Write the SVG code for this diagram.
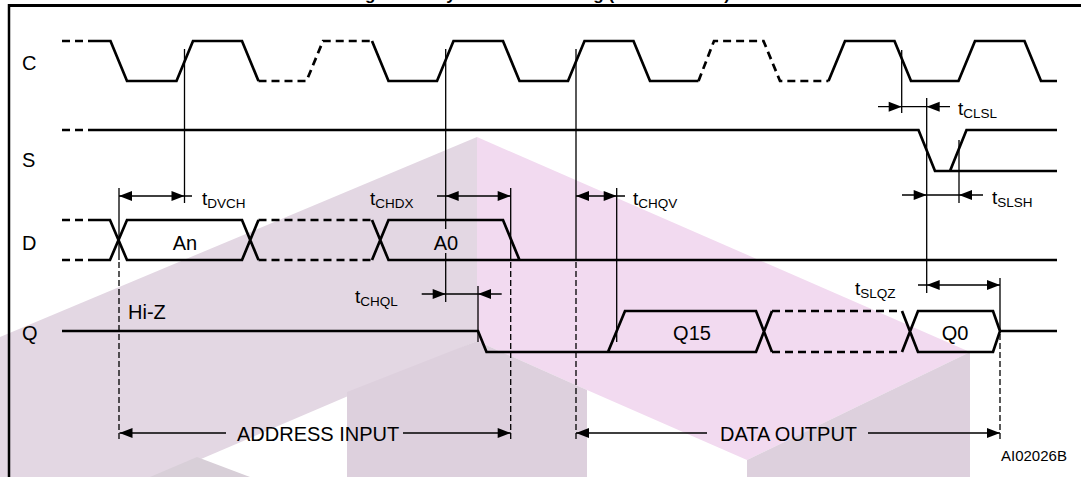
<svg xmlns="http://www.w3.org/2000/svg" width="1081" height="477" viewBox="0 0 1081 477">
<style>
.wv{fill:none;stroke:#000;stroke-width:2.7;stroke-linejoin:miter}
.dw{fill:none;stroke:#000;stroke-width:2.7;stroke-dasharray:8 5}
.tn{fill:none;stroke:#000;stroke-width:1.3}
.td{fill:none;stroke:#000;stroke-width:1.3;stroke-dasharray:6 3}
.lb{font-family:"Liberation Sans",Arial,sans-serif;font-size:20px;fill:#000}
.tm{font-family:"Liberation Sans",Arial,sans-serif;font-size:19px;fill:#000}
.sb{font-size:13.5px}
.ttl{font-family:"Liberation Sans",Arial,sans-serif;font-size:17px;font-weight:bold;fill:#000}
</style>
<defs>
<path id="ah" d="M0,0 L-13,-5 L-13,5 z" fill="#000"/>
</defs>
<rect width="1081" height="477" fill="#fff"/>
<g id="watermark">
<polygon points="0,337 477,137 477,341 0,545" fill="#E3D7E3"/>
<polygon points="477,137 970,352 747,460 587,390 477,341" fill="#F2DAF0"/>
<polygon points="347,392 477,341 587,390 587,477 347,477" fill="#DDD0DD"/>
<polygon points="747,460 970,352 970,477 747,477" fill="#DDD0DD"/>
<polygon points="150,477 197,457 250,477" fill="#D8CFD8"/>
</g>
<g id="frame">
<text class="ttl" x="540" y="-0.5" text-anchor="middle">Figure 16. Synchronous Timing (Read or Write)</text>
<line x1="9" y1="5.5" x2="1081" y2="5.5" stroke="#000" stroke-width="3"/>
<line x1="9" y1="4" x2="9" y2="477" stroke="#000" stroke-width="2.5"/>
</g>
<g id="sig-C">
<text class="lb" x="22" y="70">C</text>
<path class="dw" d="M62,41 H93"/>
<path class="wv" d="M93,41 H110.5 L127,81 H176.5 L193,41 H242 L258.5,81"/>
<path class="dw" d="M258.5,81 H306.5 L323,41 H372"/>
<path class="wv" d="M372,41 L388.5,81 H437 L453.5,41 H503 L519.5,81 H568 L584.5,41 H633.5 L650,81 H698.5"/>
<path class="dw" d="M698.5,81 L714,41 H763.5 L780,81 H828.5"/>
<path class="wv" d="M828.5,81 L845,41 H894.5 L911,81 H958.5 L975,41 H1024.5 L1041,81 H1057"/>
</g>
<g id="sig-S">
<text class="lb" x="22" y="167">S</text>
<path class="dw" d="M62,130 H93"/>
<path class="wv" d="M93,130 H918.5 L935,171 H1057 M950,171 L966.5,130 H1057"/>
</g>
<g id="sig-D">
<text class="lb" x="22" y="250">D</text>
<path class="dw" d="M62,220 H93 M62,260 H93"/>
<path class="wv" d="M93,220 H110 L127,260 H242 L258.5,220 M93,260 H110 L127,220 H242 L258.5,260"/>
<path class="dw" d="M258.5,220 H372 M258.5,260 H372"/>
<path class="wv" d="M372,220 L388.5,260 H1057 M372,260 L388.5,220 H503 L519.5,260"/>
<text class="lb" x="185" y="250" text-anchor="middle">An</text>
<text class="lb" x="446" y="250" text-anchor="middle">A0</text>
</g>
<g id="sig-Q">
<text class="lb" x="22" y="340">Q</text>
<text class="lb" x="128" y="319">Hi-Z</text>
<path class="wv" d="M62,331 H478 L486.5,352 H756 L772,311 M608,352 L625,311 H756 L772,352"/>
<path class="dw" d="M772,311 H902 M772,352 H902"/>
<path class="wv" d="M902,311 L918,352 H993 L1000,331 H1057 M902,352 L918,311 H993 L1000,331"/>
<text class="lb" x="692" y="340" text-anchor="middle">Q15</text>
<text class="lb" x="955" y="340" text-anchor="middle">Q0</text>
</g>
<g id="connectors">
<path class="tn" d="M184.5,49 V203 M119,188 V260 M445.7,49 V229 M445.7,253 V302 M510.7,188 V260 M576,49 V260 M616.7,188 V342 M478,286 V342 M901.7,50 V113 M926.7,98 V293 M959,140 V203 M1000,278 V331"/>
<path class="td" d="M119,262 V440 M510.7,262 V440 M576,262 V440 M1000,334 V440"/>
<path class="tn" d="M119,196 H192 M437,196 H510.7 M421.7,294 H501.7 M576,196 H625 M878,106.7 H950 M902,195 H983 M918,285 H1000 M119.5,433 H226 M403,433 H510.7 M576,433 H707 M868,433 H1000"/>
<use href="#ah" transform="translate(119,196) rotate(180)"/>
<use href="#ah" transform="translate(184.5,196)"/>
<use href="#ah" transform="translate(445.7,196) rotate(180)"/>
<use href="#ah" transform="translate(510.7,196)"/>
<use href="#ah" transform="translate(445.7,294)"/>
<use href="#ah" transform="translate(478,294) rotate(180)"/>
<use href="#ah" transform="translate(576,196) rotate(180)"/>
<use href="#ah" transform="translate(616.7,196)"/>
<use href="#ah" transform="translate(901.7,106.7)"/>
<use href="#ah" transform="translate(926.7,106.7) rotate(180)"/>
<use href="#ah" transform="translate(926.7,195)"/>
<use href="#ah" transform="translate(959,195) rotate(180)"/>
<use href="#ah" transform="translate(926.7,285) rotate(180)"/>
<use href="#ah" transform="translate(1000,285)"/>
<use href="#ah" transform="translate(119.5,433) rotate(180)"/>
<use href="#ah" transform="translate(510.7,433)"/>
<use href="#ah" transform="translate(576,433) rotate(180)"/>
<use href="#ah" transform="translate(1000,433)"/>
</g>
<g id="labels">
<text class="tm" x="202" y="205">t<tspan class="sb" dy="3">DVCH</tspan></text>
<text class="tm" x="370" y="205">t<tspan class="sb" dy="3">CHDX</tspan></text>
<text class="tm" x="355" y="303">t<tspan class="sb" dy="3">CHQL</tspan></text>
<text class="tm" x="633" y="205">t<tspan class="sb" dy="3">CHQV</tspan></text>
<text class="tm" x="958" y="115">t<tspan class="sb" dy="3">CLSL</tspan></text>
<text class="tm" x="992" y="204">t<tspan class="sb" dy="3">SLSH</tspan></text>
<text class="tm" x="855" y="295">t<tspan class="sb" dy="3">SLQZ</tspan></text>
<text class="lb" x="237" y="441">ADDRESS INPUT</text>
<text class="lb" x="720" y="441">DATA OUTPUT</text>
<text class="tm" x="1001" y="461" style="font-size:15px">AI02026B</text>
</g>
</svg>
